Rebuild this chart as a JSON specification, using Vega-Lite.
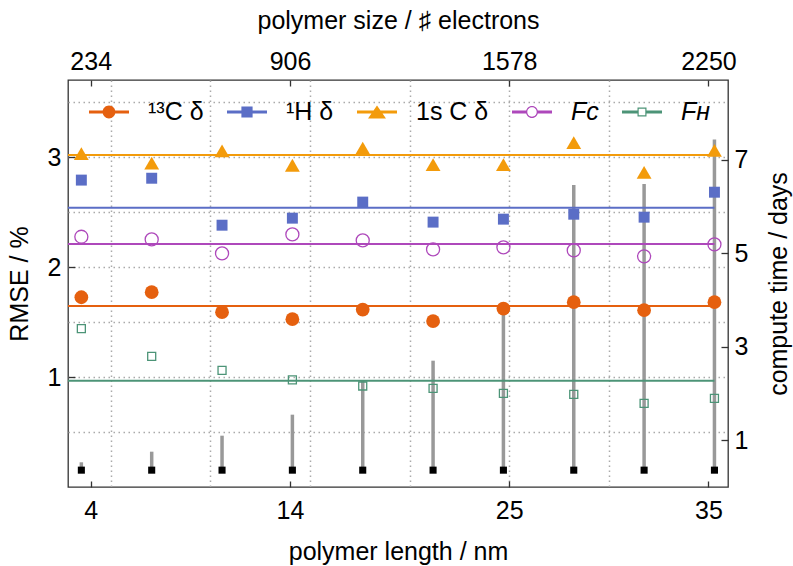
{
  "$schema": "https://vega.github.io/schema/vega-lite/v6.json",
  "width": 660,
  "height": 407,
  "autosize": {"type": "none"},
  "padding": {"left": 68, "top": 80, "right": 65, "bottom": 79},
  "background": "white",
  "config": {
    "view": {"stroke": "#333333", "strokeWidth": 1.3},
    "font": "Liberation Sans",
    "axis": {
      "labelFont": "Liberation Sans", "titleFont": "Liberation Sans",
      "labelFontSize": 25, "titleFontSize": 25, "titleFontWeight": "normal",
      "labelColor": "black", "titleColor": "black",
      "tickColor": "#333333", "tickWidth": 1.3,
      "domain": false, "labelOverlap": false, "labelFlush": false, "labelBound": false,
      "gridDash": [1.5, 3.5], "gridColor": "#aaaaaa", "gridWidth": 1.5
    }
  },
  "datasets": {
    "rmse": [
      {"length": 3.53, "series": "¹³C δ", "rmse": 1.725},
      {"length": 7.06, "series": "¹³C δ", "rmse": 1.771},
      {"length": 10.59, "series": "¹³C δ", "rmse": 1.589},
      {"length": 14.12, "series": "¹³C δ", "rmse": 1.526},
      {"length": 17.65, "series": "¹³C δ", "rmse": 1.613},
      {"length": 21.18, "series": "¹³C δ", "rmse": 1.508},
      {"length": 24.71, "series": "¹³C δ", "rmse": 1.622},
      {"length": 28.24, "series": "¹³C δ", "rmse": 1.68},
      {"length": 31.77, "series": "¹³C δ", "rmse": 1.607},
      {"length": 35.3, "series": "¹³C δ", "rmse": 1.68},
      {"length": 3.53, "series": "¹H δ", "rmse": 2.79},
      {"length": 7.06, "series": "¹H δ", "rmse": 2.807},
      {"length": 10.59, "series": "¹H δ", "rmse": 2.38},
      {"length": 14.12, "series": "¹H δ", "rmse": 2.444},
      {"length": 17.65, "series": "¹H δ", "rmse": 2.59},
      {"length": 21.18, "series": "¹H δ", "rmse": 2.408},
      {"length": 24.71, "series": "¹H δ", "rmse": 2.435},
      {"length": 28.24, "series": "¹H δ", "rmse": 2.48},
      {"length": 31.77, "series": "¹H δ", "rmse": 2.453},
      {"length": 35.3, "series": "¹H δ", "rmse": 2.68},
      {"length": 3.53, "series": "1s C δ", "rmse": 3.03},
      {"length": 7.06, "series": "1s C δ", "rmse": 2.945},
      {"length": 10.59, "series": "1s C δ", "rmse": 3.055},
      {"length": 14.12, "series": "1s C δ", "rmse": 2.925},
      {"length": 17.65, "series": "1s C δ", "rmse": 3.08},
      {"length": 21.18, "series": "1s C δ", "rmse": 2.93},
      {"length": 24.71, "series": "1s C δ", "rmse": 2.93},
      {"length": 28.24, "series": "1s C δ", "rmse": 3.13},
      {"length": 31.77, "series": "1s C δ", "rmse": 2.86},
      {"length": 35.3, "series": "1s C δ", "rmse": 3.06},
      {"length": 3.53, "series": "Fᴄ", "rmse": 2.275},
      {"length": 7.06, "series": "Fᴄ", "rmse": 2.251},
      {"length": 10.59, "series": "Fᴄ", "rmse": 2.124},
      {"length": 14.12, "series": "Fᴄ", "rmse": 2.296},
      {"length": 17.65, "series": "Fᴄ", "rmse": 2.242},
      {"length": 21.18, "series": "Fᴄ", "rmse": 2.16},
      {"length": 24.71, "series": "Fᴄ", "rmse": 2.179},
      {"length": 28.24, "series": "Fᴄ", "rmse": 2.151},
      {"length": 31.77, "series": "Fᴄ", "rmse": 2.097},
      {"length": 35.3, "series": "Fᴄ", "rmse": 2.206},
      {"length": 3.53, "series": "Fʜ", "rmse": 1.44},
      {"length": 7.06, "series": "Fʜ", "rmse": 1.187},
      {"length": 10.59, "series": "Fʜ", "rmse": 1.06},
      {"length": 14.12, "series": "Fʜ", "rmse": 0.973},
      {"length": 17.65, "series": "Fʜ", "rmse": 0.918},
      {"length": 21.18, "series": "Fʜ", "rmse": 0.897},
      {"length": 24.71, "series": "Fʜ", "rmse": 0.851},
      {"length": 28.24, "series": "Fʜ", "rmse": 0.842},
      {"length": 31.77, "series": "Fʜ", "rmse": 0.761},
      {"length": 35.3, "series": "Fʜ", "rmse": 0.806}
    ],
    "means": [
      {"series": "¹³C δ", "mean": 1.646},
      {"series": "¹H δ", "mean": 2.538},
      {"series": "1s C δ", "mean": 3.018},
      {"series": "Fᴄ", "mean": 2.209},
      {"series": "Fʜ", "mean": 0.966}
    ],
    "time": [
      {"length": 3.53, "days": 0.528},
      {"length": 7.06, "days": 0.755},
      {"length": 10.59, "days": 1.097},
      {"length": 14.12, "days": 1.546},
      {"length": 17.65, "days": 2.27},
      {"length": 21.18, "days": 2.7},
      {"length": 24.71, "days": 3.8},
      {"length": 28.24, "days": 6.456},
      {"length": 31.77, "days": 6.477},
      {"length": 35.3, "days": 7.43}
    ]
  },
  "layer": [
    {
      "data": {"name": "time"},
      "layer": [
        {
          "mark": {"type": "rule", "color": "#999999", "strokeWidth": 3.5},
          "encoding": {
            "x": {"field": "length", "type": "quantitative", "title": "polymer size / ♯ electrons",
              "scale": {"domain": [2.86, 35.98], "nice": false, "zero": false},
              "axis": {"orient": "top", "values": [4, 14, 25, 35], "grid": false, "tickSize": -6, "labelPadding": 12, "titlePadding": 16,
                "labelExpr": "datum.value === 4 ? '234' : datum.value === 14 ? '906' : datum.value === 25 ? '1578' : '2250'"}},
            "y": {"field": "days", "type": "quantitative", "title": "compute time / days",
              "scale": {"domain": [0, 8.7], "nice": false, "zero": false},
              "axis": {"orient": "right", "values": [1, 3, 5, 7], "grid": false, "tickSize": -7, "labelPadding": 13, "titlePadding": 19, "titleAngle": 270, "titleBaseline": "top", "format": "d"}},
            "y2": {"datum": 0.36}
          }
        },
        {
          "mark": {"type": "square", "color": "black", "size": 50, "opacity": 1},
          "encoding": {
            "x": {"field": "length", "type": "quantitative", "title": "polymer size / ♯ electrons"},
            "y": {"datum": 0.36, "type": "quantitative", "title": "compute time / days"}
          }
        }
      ]
    },
    {
      "layer": [
        {
          "data": {"name": "means"},
          "mark": {"type": "rule", "strokeWidth": 2},
          "encoding": {
            "x": {"datum": 2.86, "type": "quantitative", "title": "polymer length / nm",
              "axis": {"orient": "bottom", "values": [4, 5, 10, 14, 15, 20, 25, 30, 35], "tickSize": -6, "labelPadding": 17, "titlePadding": 16,
                "labelExpr": "indexof([4,14,25,35], datum.value) >= 0 ? format(datum.value, 'd') : ''",
                "tickOpacity": {"condition": {"test": "indexof([4,14,25,35], datum.value) >= 0", "value": 1}, "value": 0},
                "grid": true,
                "gridOpacity": {"condition": {"test": "datum.value % 5 === 0 && datum.value < 35", "value": 1}, "value": 0}}},
            "x2": {"datum": 35.3},
            "y": {"field": "mean", "type": "quantitative", "title": "RMSE / %",
              "scale": {"domain": [0, 3.7], "nice": false, "zero": false},
              "axis": {"orient": "left", "values": [0.5, 1, 1.5, 2, 2.5, 3, 3.5], "tickSize": -7, "labelPadding": 14, "titlePadding": 15,
                "labelExpr": "datum.value % 1 === 0 ? format(datum.value, 'd') : ''",
                "tickOpacity": {"condition": {"test": "datum.value % 1 === 0", "value": 1}, "value": 0},
                "grid": true}},
            "color": {"field": "series", "type": "nominal",
              "scale": {"domain": ["¹³C δ", "¹H δ", "1s C δ", "Fᴄ", "Fʜ"], "range": ["#E5600F", "#5B6EC6", "#F39B0B", "#AE48BB", "#4C9477"]},
              "legend": {
                "orient": "none", "legendX": 21, "legendY": 12, "direction": "horizontal", "title": null,
                "padding": 0, "symbolSize": 1600, "symbolStrokeWidth": 0,
                "labelFont": "Liberation Sans", "labelFontSize": 25, "labelColor": "black",
                "labelOffset": 19, "columnPadding": 23,
                "encode": {
                  "symbols": {"update": {
                    "shape": {"signal": "datum.value === '¹³C δ' ? 'M-1,-0.07H1V0.07H-1ZM-0.32,0A0.32 0.32 0 1 1 0.32,0A0.32 0.32 0 1 1 -0.32,0Z' : datum.value === '¹H δ' ? 'M-1,-0.07H1V0.07H-1ZM-0.28,-0.28H0.28V0.28H-0.28Z' : datum.value === '1s C δ' ? 'M-1,-0.07H1V0.07H-1ZM0,-0.32L0.45,0.33H-0.45Z' : datum.value === 'Fᴄ' ? 'M-1,-0.07H-0.28V0.07H-1ZM0.28,-0.07H1V0.07H0.28ZM-0.3,0A0.3 0.3 0 1 1 0.3,0A0.3 0.3 0 1 1 -0.3,0ZM-0.235,0A0.235 0.235 0 1 0 0.235,0A0.235 0.235 0 1 0 -0.235,0Z' : 'M-1,-0.07H-0.2V0.07H-1ZM0.2,-0.07H1V0.07H0.2ZM-0.225,-0.225H0.225V0.225H-0.225ZM-0.165,-0.165V0.165H0.165V-0.165Z'"},
                    "fill": {"signal": "scale('color', datum.value)"},
                    "stroke": {"value": "transparent"},
                    "strokeWidth": {"value": 0},
                    "opacity": {"value": 1}
                  }},
                  "labels": {"update": {
                    "fontStyle": {"signal": "datum.value === 'Fᴄ' || datum.value === 'Fʜ' ? 'italic' : 'normal'"}
                  }}
                }
              }}
          }
        },
        {
          "data": {"name": "rmse"},
          "transform": [{"filter": "datum.series === '¹³C δ'"}],
          "mark": {"type": "circle", "size": 190, "opacity": 1},
          "encoding": {
            "x": {"field": "length", "type": "quantitative", "title": "polymer length / nm"},
            "y": {"field": "rmse", "type": "quantitative", "title": "RMSE / %"},
            "color": {"field": "series", "type": "nominal"}
          }
        },
        {
          "data": {"name": "rmse"},
          "transform": [{"filter": "datum.series === '¹H δ'"}],
          "mark": {"type": "square", "size": 120, "opacity": 1},
          "encoding": {
            "x": {"field": "length", "type": "quantitative", "title": "polymer length / nm"},
            "y": {"field": "rmse", "type": "quantitative", "title": "RMSE / %"},
            "color": {"field": "series", "type": "nominal"}
          }
        },
        {
          "data": {"name": "rmse"},
          "transform": [{"filter": "datum.series === '1s C δ'"}],
          "mark": {"type": "point", "shape": "triangle-up", "filled": true, "size": 220, "opacity": 1},
          "encoding": {
            "x": {"field": "length", "type": "quantitative", "title": "polymer length / nm"},
            "y": {"field": "rmse", "type": "quantitative", "title": "RMSE / %"},
            "color": {"field": "series", "type": "nominal"}
          }
        },
        {
          "data": {"name": "rmse"},
          "transform": [{"filter": "datum.series === 'Fᴄ'"}],
          "mark": {"type": "point", "shape": "circle", "filled": false, "size": 170, "strokeWidth": 1.3, "opacity": 1},
          "encoding": {
            "x": {"field": "length", "type": "quantitative", "title": "polymer length / nm"},
            "y": {"field": "rmse", "type": "quantitative", "title": "RMSE / %"},
            "color": {"field": "series", "type": "nominal"}
          }
        },
        {
          "data": {"name": "rmse"},
          "transform": [{"filter": "datum.series === 'Fʜ'"}],
          "mark": {"type": "point", "shape": "square", "filled": false, "size": 64, "strokeWidth": 1.3, "opacity": 1},
          "encoding": {
            "x": {"field": "length", "type": "quantitative", "title": "polymer length / nm"},
            "y": {"field": "rmse", "type": "quantitative", "title": "RMSE / %"},
            "color": {"field": "series", "type": "nominal"}
          }
        }
      ]
    }
  ],
  "resolve": {"scale": {"y": "independent"}, "axis": {"x": "independent", "y": "independent"}}
}
